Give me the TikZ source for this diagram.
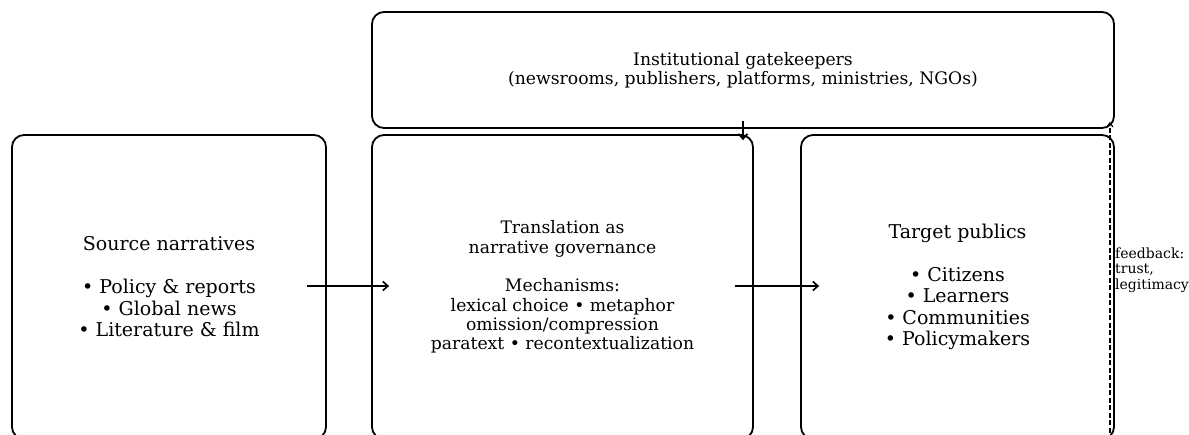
\documentclass[tikz,border=0pt]{standalone}
\usepackage{fontspec}
\setmainfont{DejaVu Serif}
\usetikzlibrary{arrows.meta}
\tikzset{
  box/.style={draw=black, line width=1.8pt, rounded corners=12pt, inner sep=0pt, align=center},
  bigtext/.style={font=\fontsize{19}{21.5}\selectfont},
  medtext/.style={font=\fontsize{17.2}{19.3}\selectfont},
  conn/.style={line width=1.7pt, -{Straight Barb[length=5pt,width=9pt,line width=1.7pt]}},
  fbconn/.style={line width=1.5pt, dash pattern=on 5pt off 2.5pt, -{Straight Barb[length=4pt,width=6pt,line width=1.2pt]}},
}
\begin{document}
\begin{tikzpicture}[x=1pt,y=-1pt]
\useasboundingbox (0,0) rectangle (1189,434);
\clip (0,0) rectangle (1189,434);
\node[box, medtext, minimum width=742pt, minimum height=116pt] (gate) at (743,70)
  {Institutional gatekeepers\\(newsrooms, publishers, platforms, ministries, NGOs)};
\node[box, bigtext, minimum width=314pt, minimum height=304pt] (src) at (169,287)
  {Source narratives\\[21.5pt]• Policy \& reports\\• Global news\\• Literature \& film};
\node[box, medtext, minimum width=381pt, minimum height=304pt] (trans) at (562.5,287)
  {Translation as\\narrative governance\\[19.3pt]Mechanisms:\\lexical choice • metaphor\\omission/compression\\paratext • recontextualization};
\node[box, bigtext, minimum width=313pt, minimum height=304pt] (tgt) at (957.5,287)
  {Target publics\\[21.5pt]• Citizens\\• Learners\\• Communities\\• Policymakers};
\node[anchor=west, inner sep=0pt, align=left, font=\fontsize{14}{15.5}\selectfont] (fb) at (1115,270)
  {feedback:\\trust,\\legitimacy};
\draw[conn] ([xshift=-20pt]src.east |- 0,286) -- ([xshift=18pt]trans.west |- 0,286);
\draw[conn] ([xshift=-19pt]trans.east |- 0,286) -- ([xshift=19pt]tgt.west |- 0,286);
\draw[conn] ([yshift=8pt]gate.south) -- ([yshift=-6pt]gate.south |- trans.north);
\draw[fbconn] ([xshift=-5pt,yshift=7pt]tgt.south east) -- ([xshift=-5pt,yshift=7pt]gate.south east);
\end{tikzpicture}
\end{document}
